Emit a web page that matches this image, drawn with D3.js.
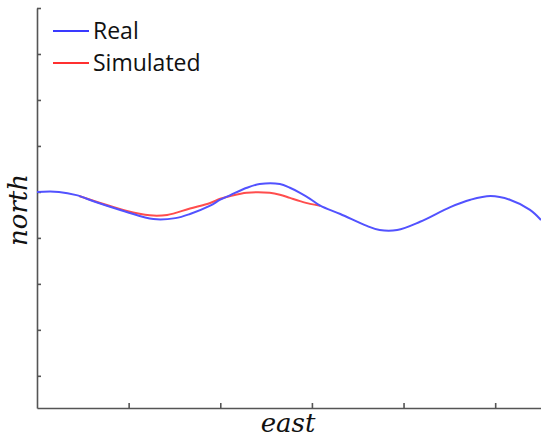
<!DOCTYPE html>
<html>
<head>
<meta charset="utf-8">
<script src="https://cdn.jsdelivr.net/npm/d3@7"></script>
<style>
  body { margin: 0; background: #fff; }
  svg { display: block; }
</style>
</head>
<body>
<svg id="chart" width="541" height="437"></svg>
<script>
// real track (east, north)
const realEast  = [0, 0.24, 0.43, 0.64, 0.97, 1.27, 1.51, 1.67, 1.89, 2.0, 2.11, 2.29, 2.43, 2.65, 2.76, 2.87, 2.98, 3.09, 3.31, 3.60, 3.74, 3.93, 4.18, 4.51, 4.73, 4.95, 5.16, 5.38, 5.5];
const realNorth = [4.0, 4.0, 3.93, 3.78, 3.57, 3.41, 3.43, 3.52, 3.70, 3.83, 3.93, 4.09, 4.17, 4.17, 4.09, 3.98, 3.85, 3.70, 3.52, 3.26, 3.17, 3.17, 3.35, 3.67, 3.83, 3.91, 3.83, 3.61, 3.39];

// simulated track
const simEast  = [0.46, 0.97, 1.23, 1.42, 1.67, 1.89, 2.0, 2.11, 2.29, 2.54, 2.65, 2.76, 2.87, 2.98, 3.09];
const simNorth = [3.91, 3.59, 3.49, 3.50, 3.64, 3.76, 3.85, 3.91, 3.98, 3.98, 3.94, 3.87, 3.80, 3.74, 3.70];

const xTicks = [1, 2, 3, 4, 5];
const yTicks = [0, 1, 2, 3, 4, 5, 6, 7, 8];
const legendNames = ["Real", "Simulated"];

const svg = d3.select("#chart");
const margin = { left: 37, right: 541, top: 8, bottom: 408 };

const x = d3.scaleLinear().domain([0, 5.5]).range([margin.left, margin.right]);
const y = d3.scaleLinear().domain([-0.7, 8]).range([margin.bottom, margin.top]);

const axisColor = "#555";

// axes with inward ticks, no labels
const yAxis = svg.append("g")
  .attr("transform", `translate(${margin.left},0)`)
  .call(d3.axisLeft(y).tickValues(yTicks).tickSizeInner(-4).tickSizeOuter(0).tickFormat(""));
const xAxis = svg.append("g")
  .attr("transform", `translate(0,${margin.bottom})`)
  .call(d3.axisBottom(x).tickValues(xTicks).tickSizeInner(-5).tickSizeOuter(0).tickFormat(""));
[yAxis, xAxis].forEach(g => {
  g.selectAll("path, line").attr("stroke", axisColor).attr("stroke-width", 1.6);
});

const line = d3.line()
  .x(d => x(d[0]))
  .y(d => y(d[1]))
  .curve(d3.curveCatmullRom.alpha(0.5));

const realPts = d3.zip(realEast, realNorth);
const simPts = d3.zip(simEast, simNorth);

svg.append("path")
  .datum(simPts)
  .attr("d", line)
  .attr("fill", "none")
  .attr("stroke", "#ff4d4d")
  .attr("stroke-width", 2);

svg.append("path")
  .datum(realPts)
  .attr("d", line)
  .attr("fill", "none")
  .attr("stroke", "#5252ff")
  .attr("stroke-width", 2);

// legend
const legColors = ["#3a3aff", "#ff3030"];
legendNames.forEach((name, i) => {
  const ly = 31 + i * 32;
  svg.append("line")
    .attr("x1", 53).attr("x2", 89)
    .attr("y1", ly).attr("y2", ly)
    .attr("stroke", legColors[i])
    .attr("stroke-width", 2);
  svg.append("text")
    .attr("x", 93).attr("y", ly + 8)
    .attr("font-family", "'Open Sans', sans-serif")
    .attr("font-size", 23)
    .attr("fill", "#111")
    .text(name);
});

// axis titles
svg.append("text")
  .attr("x", 288).attr("y", 432)
  .attr("text-anchor", "middle")
  .attr("font-family", "'DejaVu Serif', serif")
  .attr("font-style", "italic")
  .attr("font-size", 26)
  .attr("fill", "#111")
  .text("east");

svg.append("text")
  .attr("transform", "translate(27,210) rotate(-90)")
  .attr("text-anchor", "middle")
  .attr("font-family", "'DejaVu Serif', serif")
  .attr("font-style", "italic")
  .attr("font-size", 26)
  .attr("fill", "#111")
  .text("north");
</script>
</body>
</html>
